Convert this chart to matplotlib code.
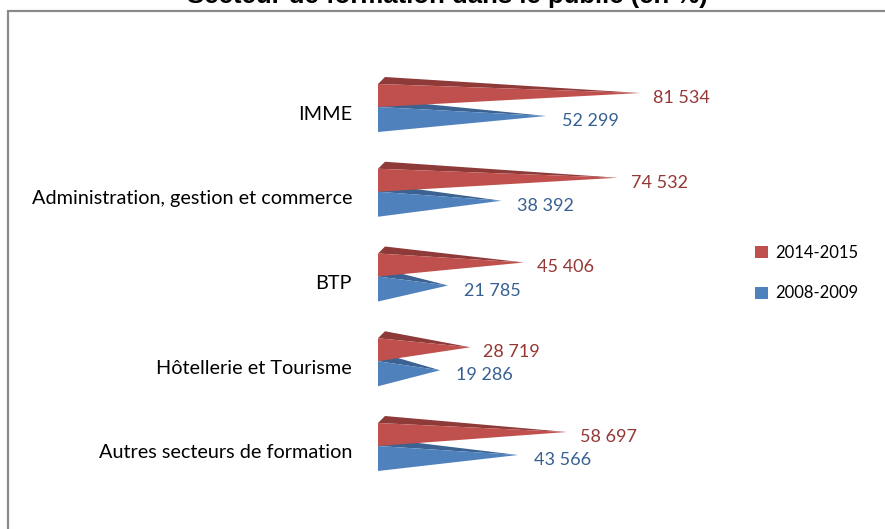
import matplotlib
matplotlib.use("Agg")
import matplotlib.pyplot as plt
from matplotlib.patches import Polygon, Rectangle, Patch

categories = ["IMME", "Administration, gestion et commerce", "BTP",
              "Hôtellerie et Tourisme", "Autres secteurs de formation"]
series_names = ["2014-2015", "2008-2009"]
values_2014 = [81534, 74532, 45406, 28719, 58697]
values_2008 = [52299, 38392, 21785, 19286, 43566]
title = "Secteur de formation dans le public (en %)"

RED, RED_TOP, RED_TXT = "#C0504D", "#8E3A38", "#953735"
BLUE, BLUE_TOP, BLUE_TXT = "#4F81BD", "#3B6291", "#376092"
FONT = ["Lato", "DejaVu Sans"]

W, H = 885, 529
fig = plt.figure(figsize=(W / 100, H / 100), dpi=100)

# outer chart frame (extends beyond the image at right/bottom)
fig.patches.append(Rectangle((8 / W, -0.2), 1.5, 1.2 - 11 / H,
                             transform=fig.transFigure, fill=False,
                             edgecolor="#8a8a8a", linewidth=1.6, zorder=0))
fig.text(447 / W, 1 - 3.5 / H, title, ha="center", va="baseline",
         fontsize=18.5, fontweight="bold", family=["Liberation Sans", "DejaVu Sans"])

# axes geometry (pixels)
x0_px, px_per_unit = 378, 3.215 / 1000
xmax = 100000
sp = 84.75
top_px = 114 - sp * 0.5
ax = fig.add_axes([x0_px / W, 1 - (top_px + 5 * sp) / H,
                   xmax * px_per_unit / W, 5 * sp / H])
ax.set_xlim(0, xmax)
ax.set_ylim(4.5, -0.5)
ax.axis("off")

def py(p):  # pixel offset -> y units
    return p / sp

dx = 7 / px_per_unit

def pyramid(v, c, ftop, fbot, apex, face, topc, z):
    yt, yb, ya = c + py(ftop), c + py(fbot), c + py(apex)
    back = Polygon([(0, yt), (dx, yt - py(7)), (v, ya)], closed=True,
                   facecolor=topc, edgecolor="none", zorder=z)
    front = Polygon([(0, yt), (0, yb), (v, ya)], closed=True,
                    facecolor=face, edgecolor="none", zorder=z + 0.5)
    ax.add_patch(back)
    ax.add_patch(front)
    return ya

for i, cat in enumerate(categories):
    yb_apex = pyramid(values_2008[i], i, -7, 18, 2, BLUE, BLUE_TOP, 2)
    yr_apex = pyramid(values_2014[i], i, -30, -7, -21, RED, RED_TOP, 3)
    ax.annotate(f"{values_2014[i]:,}".replace(",", " "), (values_2014[i], yr_apex),
                xytext=(13, -5), textcoords="offset pixels", ha="left", va="center",
                fontsize=13, color=RED_TXT, family=FONT)
    ax.annotate(f"{values_2008[i]:,}".replace(",", " "), (values_2008[i], yb_apex),
                xytext=(16, -5), textcoords="offset pixels", ha="left", va="center",
                fontsize=13, color=BLUE_TXT, family=FONT)
    ax.text(-26 / px_per_unit, i, cat, ha="right", va="center",
            fontsize=14.3, color="#000000", family=FONT)

handles = [Patch(facecolor=RED, edgecolor="none"), Patch(facecolor=BLUE, edgecolor="none")]
leg = fig.legend(handles, series_names, loc="center left",
                 bbox_to_anchor=(740 / W, 1 - 273 / H), frameon=False,
                 handlelength=0.75, handleheight=0.75, handletextpad=0.45,
                 labelspacing=1.5, prop={"family": FONT, "size": 12})

fig.savefig("out.png", dpi=100)
